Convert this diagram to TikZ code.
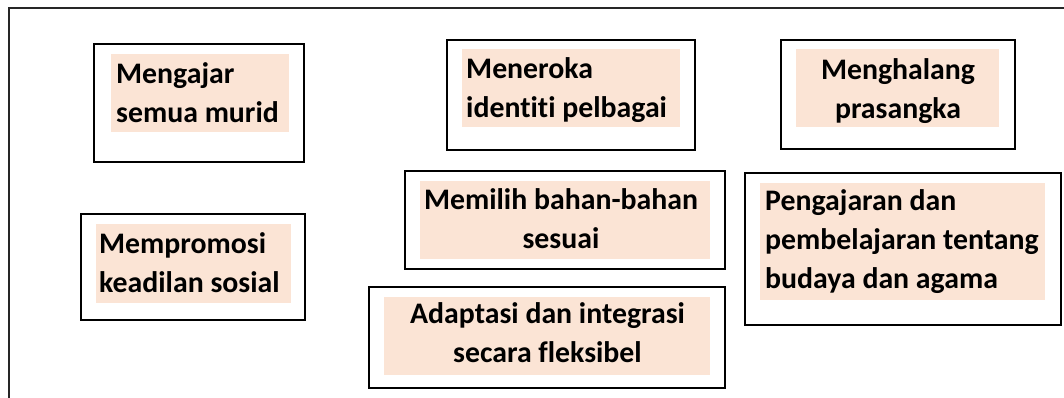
\documentclass[tikz,border=0pt]{standalone}
\usepackage{fontspec}
\setmainfont{Carlito}[RawFeature={-liga;-clig}]
\definecolor{peach}{HTML}{FBE4D5}
\begin{document}
\begin{tikzpicture}[x=1pt,y=-1pt,
  outerbox/.style={draw=black, line width=1.2pt, fill=white, inner sep=0pt},
  panel/.style={fill=peach, draw=none, inner sep=0pt},
  lbl/.style={font=\bfseries\fontsize{29.8}{39}\selectfont, inner sep=0pt, text=black}]
\useasboundingbox (0,0) rectangle (1064,398);
\coordinate (fa) at (9,398);
\coordinate (fb) at (9,8);
\coordinate (fc) at (1064,8);
\draw[line width=1.4pt, draw=black!85] (fa) -- (fb) -- (fc);
% Box 1
\node[outerbox, minimum width=210pt, minimum height=118pt] (b1) at (199,103) {};
\node[panel, minimum width=178pt, minimum height=78pt] (p1) at (200,93) {};
\node[lbl, align=left, anchor=base west] (t1) at (116,123) {Mengajar\\semua murid};
% Box 2
\node[outerbox, minimum width=248pt, minimum height=110pt] (b2) at (571,95) {};
\node[panel, minimum width=218pt, minimum height=78pt] (p2) at (571,88) {};
\node[lbl, align=left, anchor=base west] (t2) at (466,118) {Meneroka\\identiti pelbagai};
% Box 3
\node[outerbox, minimum width=234pt, minimum height=109pt] (b3) at (898,94.5) {};
\node[panel, minimum width=203pt, minimum height=78pt] (p3) at (897.5,88) {};
\node[lbl, align=center, anchor=base] (t3) at (898,118.5) {Menghalang\\prasangka};
% Box 4
\node[outerbox, minimum width=224pt, minimum height=106pt] (b4) at (193,267) {};
\node[panel, minimum width=195pt, minimum height=79pt] (p4) at (193.5,263.5) {};
\node[lbl, align=left, anchor=base west] (t4) at (99,292) {Mempromosi\\keadilan sosial};
% Box 5
\node[outerbox, minimum width=320pt, minimum height=98pt] (b5) at (565,220) {};
\node[panel, minimum width=290pt, minimum height=78pt] (p5) at (565,220) {};
\node[lbl, align=center, anchor=base] (t5) at (561,248) {Memilih bahan-bahan\\sesuai};
% Box 6
\node[outerbox, minimum width=356pt, minimum height=101pt] (b6) at (547,337.5) {};
\node[panel, minimum width=326pt, minimum height=78pt] (p6) at (547,336) {};
\node[lbl, align=center, anchor=base] (t6) at (547.5,362) {Adaptasi dan integrasi\\secara fleksibel};
% Box 7
\node[outerbox, minimum width=316pt, minimum height=152pt] (b7) at (903,249) {};
\node[panel, minimum width=285pt, minimum height=117pt] (p7) at (902.5,241.5) {};
\node[lbl, align=left, anchor=base west] (t7) at (765,288) {Pengajaran dan\\pembelajaran tentang\\budaya dan agama};
\end{tikzpicture}
\end{document}
